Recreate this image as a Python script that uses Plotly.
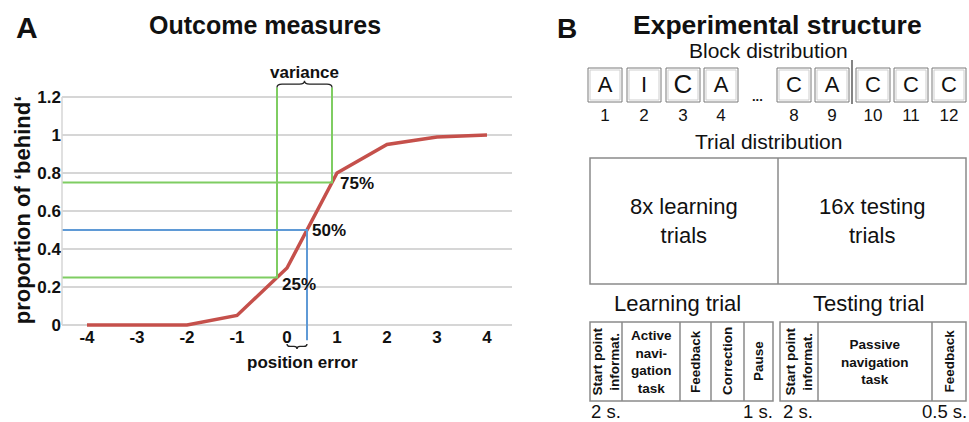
import plotly.graph_objects as go

# ---------------- Panel A data ----------------
position_error = [-4, -3, -2, -1, 0, 1, 2, 3, 4]
prop_behind = [0.0, 0.0, 0.0, 0.05, 0.30, 0.80, 0.95, 0.99, 1.00]
quantile_levels = [0.25, 0.50, 0.75]
quantile_labels = ["25%", "50%", "75%"]
quantile_errors = [-0.2, 0.4, 0.9]
x_ticks = [-4, -3, -2, -1, 0, 1, 2, 3, 4]
y_ticks = [0, 0.2, 0.4, 0.6, 0.8, 1.0, 1.2]
y_tick_labels = ["0", "0.2", "0.4", "0.6", "0.8", "1", "1.2"]

# ---------------- Panel B data ----------------
block_numbers = [1, 2, 3, 4, 8, 9, 10, 11, 12]
block_types = ["A", "I", "C", "A", "C", "A", "C", "C", "C"]
trial_groups = ["8x learning<br>trials", "16x testing<br>trials"]
trial_types = ["Learning trial", "Testing trial"]
learning_steps = ["Start point<br>informat.", "Active<br>navi-<br>gation<br>task",
                  "Feedback", "Correction", "Pause"]
learning_rotated = [True, False, True, True, True]
testing_steps = ["Start point<br>informat.", "Passive<br>navigation<br>task", "Feedback"]
testing_rotated = [True, False, True]
time_labels = ["2 s.", "1 s.", "2 s.", "0.5 s."]

# ---------------- styles / layout ----------------
W, H = 969, 422
FONT = "Liberation Sans, Arial, Helvetica, sans-serif"
TXT = "#111111"
RED = "#c5504b"
GREEN = "#7fcd62"
BLUE = "#5f9ad6"
GRID = "#d6d6d6"
BOX = "#8a8a8a"

# panel A pixel frame
PX_L, PX_R = 62, 512
PX_TOP, PX_BOT = 70, 350
Y0_PX, Y_SCALE = 325, 190.0
y_lo = -(PX_BOT - Y0_PX) / Y_SCALE
y_hi = (Y0_PX - PX_TOP) / Y_SCALE

fig = go.Figure()

# red cumulative curve
fig.add_trace(go.Scatter(x=position_error, y=prop_behind, mode="lines",
                         line=dict(color=RED, width=3.5), xaxis="x", yaxis="y",
                         hoverinfo="skip", showlegend=False))

# quantile guide lines
x_left = -4.5
for lvl, q in zip(quantile_levels, quantile_errors):
    if lvl == 0.5:
        xs, ys, col = [x_left, q, q], [lvl, lvl, -0.08], BLUE
    else:
        xs, ys, col = [x_left, q, q], [lvl, lvl, 1.25], GREEN
    fig.add_trace(go.Scatter(x=xs, y=ys, mode="lines", line=dict(color=col, width=2),
                             xaxis="x", yaxis="y", hoverinfo="skip", showlegend=False))

# quantile labels
label_shift = {"25%": (3, -7), "50%": (3, 0), "75%": (6, -1)}
for lvl, q, lab in zip(quantile_levels, quantile_errors, quantile_labels):
    dx, dy = label_shift[lab]
    fig.add_annotation(x=q, y=lvl, xref="x", yref="y", text=lab, showarrow=False,
                       xanchor="left", yanchor="middle", xshift=dx, yshift=dy,
                       font=dict(family=FONT, size=17, color=TXT, weight="bold"))


def brace(x0, x1, yb, h, dx):
    xm = (x0 + x1) / 2
    yh = yb + h / 2
    return (f"M {x0},{yb} Q {x0},{yh} {x0 + dx},{yh} L {xm - dx},{yh} "
            f"Q {xm},{yh} {xm},{yb + h} Q {xm},{yh} {xm + dx},{yh} "
            f"L {x1 - dx},{yh} Q {x1},{yh} {x1},{yb}")


q25, q50, q75 = quantile_errors
fig.add_shape(type="path", path=brace(q25, q75, 1.25, 0.036, 0.1), xref="x", yref="y",
              line=dict(color="#222", width=1.3))
fig.add_annotation(x=(q25 + q75) / 2, y=1.33, xref="x", yref="y", text="variance",
                   showarrow=False, font=dict(family=FONT, size=17, color=TXT, weight="bold"))
fig.add_shape(type="path", path=brace(0, q50, -0.1, -0.026, 0.06), xref="x", yref="y",
              line=dict(color="#222", width=1.3))

# left axis line
fig.add_shape(type="line", xref="x domain", yref="y", x0=0, x1=0, y0=0, y1=1.2,
              line=dict(color=GRID, width=1.5))

# ---------------- Panel B (diagram in pixel-like axes) ----------------
def rect(x0, y0, x1, y1, color=BOX, width=1.2):
    fig.add_shape(type="rect", xref="x2", yref="y2", x0=x0, y0=y0, x1=x1, y1=y1,
                  line=dict(color=color, width=width), fillcolor="rgba(0,0,0,0)")


def vline(x, y0, y1, color=BOX, width=1.2):
    fig.add_shape(type="line", xref="x2", yref="y2", x0=x, x1=x, y0=y0, y1=y1,
                  line=dict(color=color, width=width))


def text(x, y, s, size, bold=False, angle=0, xanchor="center", yanchor="middle"):
    fig.add_annotation(x=x, y=y, xref="x2", yref="y2", text=s, showarrow=False,
                       textangle=angle, xanchor=xanchor, yanchor=yanchor,
                       font=dict(family=FONT, size=size, color=TXT,
                                 weight="bold" if bold else "normal"))


# block boxes
block_left = [588, 627, 666, 704, 777, 815, 856, 894, 932]
BW = 34
B_TOP, B_BOT = 68, 102
for xl in block_left:
    rect(xl, B_TOP, xl + BW, B_BOT, color="#7a7a7a", width=1)
    rect(xl + 2, B_TOP + 2, xl + BW - 2, B_BOT - 2, color="#cfcfcf", width=1)
centers = [xl + BW / 2 for xl in block_left]
fig.add_trace(go.Scatter(x=centers, y=[86] * len(centers), mode="text", text=block_types,
                         textfont=dict(family=FONT, size=[22, 22, 26, 22, 22, 22, 22, 22, 22],
                                       color=TXT),
                         xaxis="x2", yaxis="y2", hoverinfo="skip", showlegend=False))
fig.add_trace(go.Scatter(x=centers, y=[117] * len(centers), mode="text",
                         text=[str(n) for n in block_numbers],
                         textfont=dict(family=FONT, size=17, color=TXT),
                         xaxis="x2", yaxis="y2", hoverinfo="skip", showlegend=False))
text(757, 96, "...", 13, bold=True)
vline(852, 60, 104, color="#333333", width=1.2)

text(768, 50, "Block distribution", 21)
text(768, 141, "Trial distribution", 21)

# trial distribution box
T_L, T_M, T_R = 590, 778, 966
rect(T_L, 158, T_R, 284, width=1.5)
vline(T_M, 158, 284, width=1.5)
text((T_L + T_M) / 2, 221, trial_groups[0], 22)
text((T_M + T_R) / 2, 221, trial_groups[1], 22)

# trial structure
text(677, 303, trial_types[0], 22)
text(868, 303, trial_types[1], 22)
C_TOP, C_BOT = 322, 401
learn_edges = [590, 622, 680, 711, 744, 773]
test_edges = [780, 818, 932, 966]
for edges, steps, rot in ((learn_edges, learning_steps, learning_rotated),
                          (test_edges, testing_steps, testing_rotated)):
    rect(edges[0], C_TOP, edges[-1], C_BOT, width=1.5)
    for e in edges[1:-1]:
        vline(e, C_TOP, C_BOT, width=1.5)
    for i, (s, r) in enumerate(zip(steps, rot)):
        cx = (edges[i] + edges[i + 1]) / 2
        text(cx, (C_TOP + C_BOT) / 2, s, 13.5, bold=True, angle=-90 if r else 0)

text(589, 411, time_labels[0], 18.5, xanchor="left")
text(775, 411, time_labels[1], 18.5, xanchor="right")
text(781, 411, time_labels[2], 18.5, xanchor="left")
text(969, 411, time_labels[3], 18.5, xanchor="right")

# ---------------- titles ----------------
text(27, 27, "A", 30, bold=True)
text(265, 25, "Outcome measures", 25, bold=True)
text(567, 28, "B", 28, bold=True)
text(777, 25, "Experimental structure", 26.5, bold=True)
text(302, 362, "position error", 17, bold=True)

fig.update_layout(
    width=W, height=H, autosize=False,
    margin=dict(l=0, r=0, t=0, b=0, pad=0),
    paper_bgcolor="white", plot_bgcolor="rgba(0,0,0,0)",
    showlegend=False,
    font=dict(family=FONT, color=TXT),
    xaxis=dict(domain=[PX_L / W, PX_R / W], range=[-4.5, 4.5],
               tickvals=x_ticks, ticktext=[str(v) for v in x_ticks],
               tickfont=dict(family=FONT, size=17, color=TXT, weight="bold"),
               showgrid=False, zeroline=False, showline=False, ticks="",
               anchor="free", position=(H - Y0_PX) / H, fixedrange=True,
               automargin=False),
    yaxis=dict(domain=[(H - PX_BOT) / H, (H - PX_TOP) / H], range=[y_lo, y_hi],
               tickvals=y_ticks, ticktext=y_tick_labels,
               tickfont=dict(family=FONT, size=17, color=TXT, weight="bold"),
               showgrid=True, gridcolor=GRID, gridwidth=1.5,
               zeroline=False, showline=False, ticks="", anchor="x",
               ticklabelstandoff=0, automargin=False,
               title=dict(text="proportion of \u2018behind\u2018", standoff=0,
                          font=dict(family=FONT, size=22, color=TXT, weight="bold")),
               fixedrange=True),
    xaxis2=dict(domain=[0, 1], range=[0, W], visible=False, anchor="y2",
                fixedrange=True, automargin=False),
    yaxis2=dict(domain=[0, 1], range=[H, 0], visible=False, anchor="x2",
                fixedrange=True, automargin=False),
)

fig.write_html("out.html", config={"displayModeBar": False},
               post_script="document.body.style.margin='0';document.body.style.padding='0';")
